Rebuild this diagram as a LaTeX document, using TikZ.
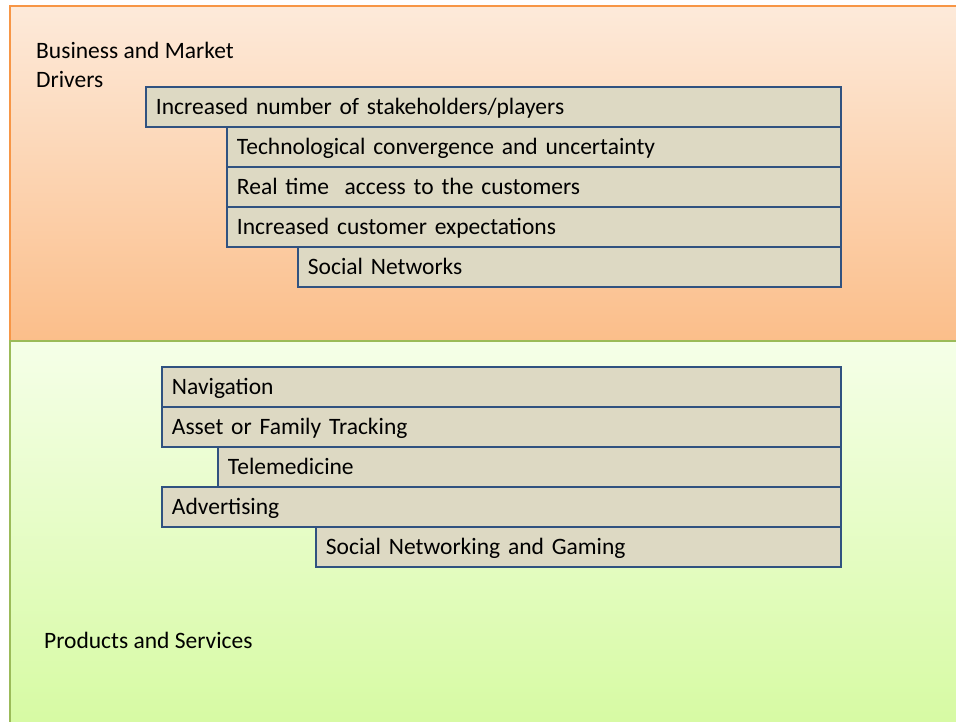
\documentclass[tikz,border=0pt]{standalone}
\usepackage{fontspec}
\setmainfont{Carlito}
\usepackage{xcolor}
\usepackage{tikz}
\definecolor{peachtop}{RGB}{253,234,218}
\definecolor{peachbot}{RGB}{251,190,138}
\definecolor{limetop}{RGB}{245,255,232}
\definecolor{limebot}{RGB}{214,250,162}
\definecolor{orangeline}{RGB}{247,150,70}
\definecolor{greenline}{RGB}{155,187,89}
\definecolor{boxfill}{RGB}{221,217,195}
\definecolor{boxline}{RGB}{48,82,128}
\tikzset{
  itembox/.style={draw=boxline,line width=1.9pt,fill=boxfill,anchor=north west,
    inner xsep=10pt,inner ysep=0pt,minimum height=40pt,align=left,
    text height=15pt,text depth=0pt,
    font=\fontsize{23.5}{26}\selectfont},
  paneltext/.style={anchor=north west,align=left,inner sep=0pt,
    font=\fontsize{23.5}{29}\selectfont}
}
% box from left x, top y, to the right edge at 840
\newcommand{\itemat}[4]{\node[itembox,text width={840pt-#2pt-20pt}] (#1) at (#2,#3) {#4};}

\begin{document}
\begin{tikzpicture}[x=1pt,y=-1pt]
\useasboundingbox (0,0) rectangle (956,721);
\fill[white] (0,0) rectangle (956,721);
\shade[top color=peachtop,bottom color=peachbot] (10,6) rectangle (970,341);
\draw[orangeline,line width=1.2pt] (970,6) -- (10,6) -- (10,341);
\shade[top color=limetop,bottom color=limebot] (10,341) rectangle (970,730);
\draw[greenline,line width=1.4pt] (970,341) -- (10,341) -- (10,730);
\node[paneltext] (drivers) at (36,42) {Business and Market\\Drivers};
\node[paneltext] (products) at (44,632) {Products and Services};
\itemat{stake}{145}{86}{Increased number of stakeholders/players}
\itemat{tech}{226}{126}{Technological convergence and uncertainty}
\itemat{realtime}{226}{166}{Real time \ access to the customers}
\itemat{expect}{226}{206}{Increased customer expectations}
\itemat{socnet}{297}{246}{Social Networks}
\itemat{nav}{161}{366}{Navigation}
\itemat{asset}{161}{406}{Asset or Family Tracking}
\itemat{tele}{217}{446}{Telemedicine}
\itemat{advert}{161}{486}{Advertising}
\itemat{gaming}{315}{526}{Social Networking and Gaming}
\end{tikzpicture}
\end{document}
